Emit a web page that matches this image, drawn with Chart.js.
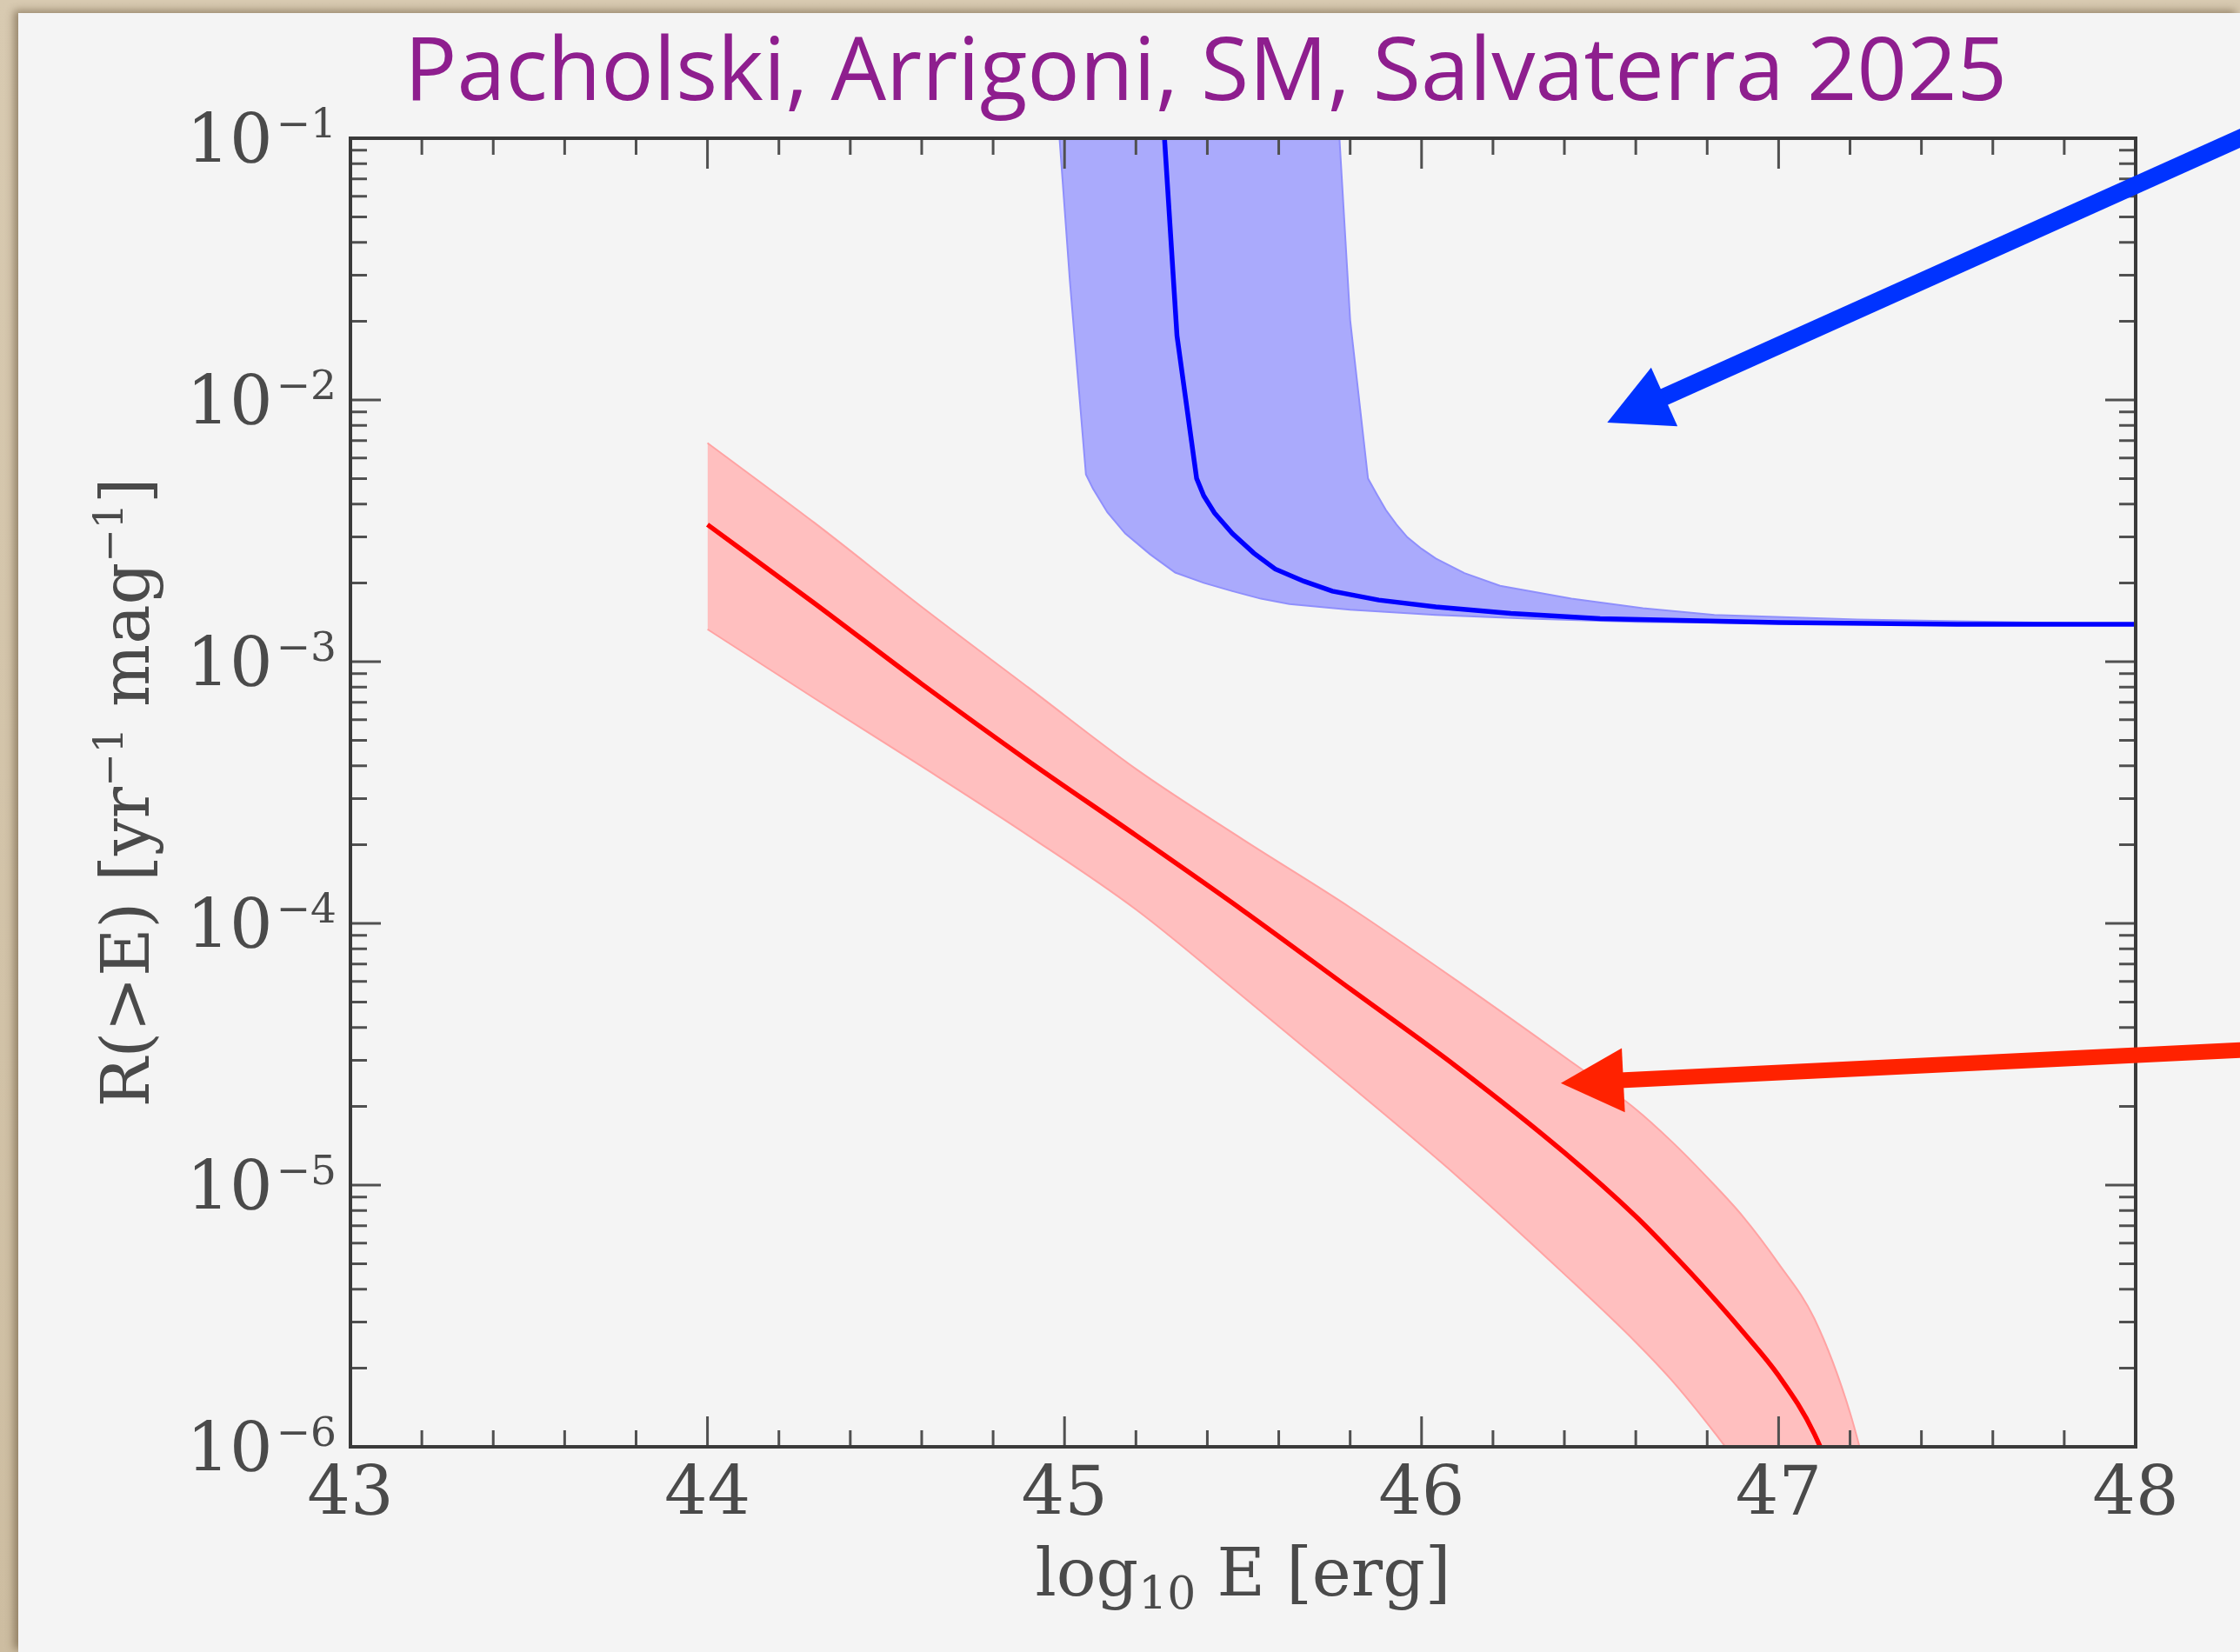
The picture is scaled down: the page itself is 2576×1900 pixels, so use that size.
<!DOCTYPE html>
<html>
<head>
<meta charset="utf-8">
<script src="https://cdn.jsdelivr.net/npm/chart.js@4.4.1/dist/chart.umd.min.js"></script>
<style>
  html, body { margin: 0; padding: 0; }
  body {
    width: 2576px; height: 1900px; position: relative; overflow: hidden;
    background: linear-gradient(180deg, #d8cab1 0%, #cdbda1 100%);
  }
  #panel {
    position: absolute; left: 21px; top: 15px; right: 0; bottom: 0;
    background: #f4f4f4;
    box-shadow: -5px -3px 9px rgba(70, 50, 25, 0.45);
  }
  #chart { position: absolute; left: 0; top: 0; }
</style>
</head>
<body>
<div id="panel"></div>
<canvas id="chart" width="2576" height="1900"></canvas>
<script>
// x = log10 E [erg], y = R(>E) [yr^-1 mag^-1]

// red population: median curve and band
const redE    = [44.0, 44.3, 44.6, 44.9, 45.2, 45.5, 45.8, 46.1, 46.4, 46.6, 46.7, 46.8, 46.9, 47.0, 47.1, 47.2, 47.3];
const redMid  = [3.34e-3, 1.67e-3, 8.22e-4, 4.16e-4, 2.17e-4, 1.12e-4, 5.62e-5, 2.82e-5, 1.33e-5, 7.59e-6, 5.52e-6, 3.94e-6, 2.75e-6, 1.87e-6, 1.12e-6, 5.0e-7, 1.6e-7];
const redHigh = [6.85e-3, 3.39e-3, 1.62e-3, 7.94e-4, 3.89e-4, 2.09e-4, 1.15e-4, 6.03e-5, 3.09e-5, 1.95e-5, 1.47e-5, 1.07e-5, 7.59e-6, 5.01e-6, 3.09e-6, 1.35e-6, 3.98e-7];
const redLow  = [1.33e-3, 7.24e-4, 3.98e-4, 2.16e-4, 1.13e-4, 5.25e-5, 2.40e-5, 1.08e-5, 4.57e-6, 2.51e-6, 1.80e-6, 1.23e-6, 8.1e-7, 5.0e-7, 2.8e-7, 1.6e-7, 7.9e-8];

// blue population: median curve and band edges
const blueMidE  = [45.28, 45.315, 45.37, 45.39, 45.42, 45.47, 45.53, 45.59, 45.67, 45.75, 45.88, 46.04, 46.25, 46.5, 47.0, 47.5, 48.0];
const blueMid   = [0.1, 1.76e-2, 5.01e-3, 4.30e-3, 3.70e-3, 3.09e-3, 2.60e-3, 2.26e-3, 2.03e-3, 1.86e-3, 1.72e-3, 1.62e-3, 1.53e-3, 1.46e-3, 1.41e-3, 1.39e-3, 1.39e-3];
const blueLowE  = [44.986, 45.015, 45.06, 45.08, 45.12, 45.17, 45.24, 45.31, 45.39, 45.47, 45.55, 45.63, 45.8, 46.04, 46.3, 46.6, 47.0, 48.0];
const blueLow   = [0.1, 2.85e-2, 5.19e-3, 4.57e-3, 3.72e-3, 3.09e-3, 2.57e-3, 2.19e-3, 2.00e-3, 1.86e-3, 1.74e-3, 1.66e-3, 1.58e-3, 1.51e-3, 1.46e-3, 1.42e-3, 1.40e-3, 1.39e-3];
const blueHighE = [45.77, 45.80, 45.85, 45.875, 45.90, 45.93, 45.96, 46.0, 46.04, 46.12, 46.22, 46.42, 46.62, 46.82, 47.22, 48.0];
const blueHigh  = [0.1, 2.02e-2, 5.01e-3, 4.35e-3, 3.80e-3, 3.34e-3, 2.99e-3, 2.70e-3, 2.48e-3, 2.18e-3, 1.95e-3, 1.74e-3, 1.60e-3, 1.51e-3, 1.45e-3, 1.39e-3];

// axes
const xTicks = [43, 44, 45, 46, 47, 48];
const yExponents = [-1, -2, -3, -4, -5, -6];
const titleText = 'Pacholski, Arrigoni, SM, Salvaterra 2025';

// annotation arrows, in data units (tail sits just past the right edge)
const arrowTips  = [[46.52, 8.19e-3], [46.39, 2.45e-5]];
const arrowTails = [[48.35, 0.1085], [48.35, 3.31e-5]];
const arrowColors = ['#0033ff', '#ff2200'];
const arrowWidths = [20, 18];

const toPoints = (xs, ys) => xs.map((x, i) => ({ x: x, y: ys[i] }));

// closed outline: one edge forward, the other back
function bandOutline(xa, ya, xb, yb) {
  const pts = toPoints(xa, ya).concat(toPoints(xb, yb).reverse());
  pts.push(pts[0]);
  return pts;
}

const SERIF = '"DejaVu Serif", "Liberation Serif", serif';
const INK = '#4a4a4a';

function drawArrow(ctx, x1, y1, x2, y2, color, width) {
  const ang = Math.atan2(y2 - y1, x2 - x1);
  const c = Math.cos(ang), s = Math.sin(ang);
  const headLen = 72, headHalf = 37;
  const bx = x2 - headLen * c, by = y2 - headLen * s;
  ctx.strokeStyle = color;
  ctx.lineWidth = width;
  ctx.lineCap = 'butt';
  ctx.beginPath();
  ctx.moveTo(x1, y1);
  ctx.lineTo(bx + 4 * c, by + 4 * s);
  ctx.stroke();
  ctx.fillStyle = color;
  ctx.beginPath();
  ctx.moveTo(x2, y2);
  ctx.lineTo(bx + headHalf * s, by - headHalf * c);
  ctx.lineTo(bx - headHalf * s, by + headHalf * c);
  ctx.closePath();
  ctx.fill();
}

const framePlugin = {
  id: 'frame',
  afterDraw(chart) {
    const { ctx, chartArea: a } = chart;
    const xs = chart.scales.x, ys = chart.scales.y;
    ctx.save();

    // inward ticks, mirrored on all four sides
    ctx.strokeStyle = '#505050';
    ctx.lineWidth = 3;
    ctx.beginPath();
    for (let i = 0; i <= 25; i++) {
      const p = xs.getPixelForValue(43 + i * 0.2);
      const len = i % 5 === 0 ? 35 : 19;
      ctx.moveTo(p, a.bottom); ctx.lineTo(p, a.bottom - len);
      ctx.moveTo(p, a.top); ctx.lineTo(p, a.top + len);
    }
    for (let e = -6; e <= -1; e++) {
      for (let m = 1; m <= 9; m++) {
        if (e === -1 && m > 1) break;
        const p = ys.getPixelForValue(m * Math.pow(10, e));
        const len = m === 1 ? 35 : 19;
        ctx.moveTo(a.left, p); ctx.lineTo(a.left + len, p);
        ctx.moveTo(a.right, p); ctx.lineTo(a.right - len, p);
      }
    }
    ctx.stroke();

    // frame
    ctx.strokeStyle = '#3a3a3a';
    ctx.lineWidth = 4;
    ctx.strokeRect(a.left, a.top, a.right - a.left, a.bottom - a.top);

    ctx.fillStyle = INK;

    // x tick labels
    ctx.font = '78px ' + SERIF;
    ctx.textAlign = 'center';
    ctx.textBaseline = 'alphabetic';
    xTicks.forEach(t => {
      ctx.fillText(String(t), xs.getPixelForValue(t), a.bottom + 78);
    });

    // y tick labels: 10 with superscript exponent
    ctx.textAlign = 'right';
    yExponents.forEach(e => {
      const p = ys.getPixelForValue(Math.pow(10, e));
      const exp = '\u2212' + Math.abs(e);
      ctx.font = '47px ' + SERIF;
      const ew = ctx.measureText(exp).width;
      ctx.fillText(exp, a.left - 16, p - 1);
      ctx.font = '78px ' + SERIF;
      ctx.fillText('10', a.left - 16 - ew - 4, p + 28);
    });

    // x axis title: log10 E [erg]
    ctx.textAlign = 'left';
    const xParts = [['log', 76, 0], ['10', 52, 15], [' E [erg]', 76, 0]];
    let total = 0;
    xParts.forEach(pt => { ctx.font = pt[1] + 'px ' + SERIF; total += ctx.measureText(pt[0]).width; });
    let cx = (a.left + a.right) / 2 - total / 2;
    xParts.forEach(pt => {
      ctx.font = pt[1] + 'px ' + SERIF;
      ctx.fillText(pt[0], cx, 1835 + pt[2]);
      cx += ctx.measureText(pt[0]).width;
    });

    // y axis title, rotated
    const yParts = [['R(>E) [yr', 76, 0], ['\u22121', 46, -30], [' mag', 76, 0], ['\u22121', 46, -30], [']', 76, 0]];
    total = 0;
    yParts.forEach(pt => { ctx.font = pt[1] + 'px ' + SERIF; total += ctx.measureText(pt[0]).width; });
    ctx.save();
    ctx.translate(171, (a.top + a.bottom) / 2);
    ctx.rotate(-Math.PI / 2);
    cx = -total / 2;
    yParts.forEach(pt => {
      ctx.font = pt[1] + 'px ' + SERIF;
      ctx.fillText(pt[0], cx, pt[2]);
      cx += ctx.measureText(pt[0]).width;
    });
    ctx.restore();

    // title
    ctx.font = '100px "Open Sans", sans-serif';
    ctx.fillStyle = '#8e1e8e';
    const tw = ctx.measureText(titleText).width;
    ctx.save();
    ctx.translate(465, 115);
    ctx.scale(1843 / tw, 1);
    ctx.fillText(titleText, 0, 0);
    ctx.restore();

    // arrows
    arrowTips.forEach((tip, i) => {
      const tail = arrowTails[i];
      drawArrow(ctx,
        xs.getPixelForValue(tail[0]), ys.getPixelForValue(tail[1]),
        xs.getPixelForValue(tip[0]), ys.getPixelForValue(tip[1]),
        arrowColors[i], arrowWidths[i]);
    });

    ctx.restore();
  }
};

new Chart(document.getElementById('chart'), {
  type: 'scatter',
  data: {
    datasets: [
      {
        data: toPoints(redE, redMid),
        showLine: true, borderColor: '#ff0000', borderWidth: 5.5,
        cubicInterpolationMode: 'monotone', pointRadius: 0, fill: false
      },
      {
        data: toPoints(blueMidE, blueMid),
        showLine: true, borderColor: '#0000ff', borderWidth: 5.5,
        pointRadius: 0, fill: false
      },
      {
        data: toPoints(redE, redHigh),
        showLine: true, cubicInterpolationMode: 'monotone',
        fill: { target: 3 },
        backgroundColor: '#ffbfbf', borderColor: '#ffa3a3',
        borderWidth: 2, pointRadius: 0
      },
      {
        data: toPoints(redE, redLow),
        showLine: true, cubicInterpolationMode: 'monotone',
        fill: false, borderColor: '#ffa3a3',
        borderWidth: 2, pointRadius: 0
      },
      {
        data: bandOutline(blueLowE, blueLow, blueHighE, blueHigh),
        showLine: true, fill: 'shape',
        backgroundColor: '#aaaafc', borderColor: '#8f8ffc',
        borderWidth: 2, pointRadius: 0
      }
    ]
  },
  options: {
    responsive: false,
    animation: false,
    devicePixelRatio: 1,
    layout: { padding: { left: 403, top: 159, right: 120, bottom: 236 } },
    plugins: {
      legend: { display: false },
      tooltip: { enabled: false },
      filler: { drawTime: 'beforeDatasetsDraw' }
    },
    scales: {
      x: { type: 'linear', min: 43, max: 48, display: false },
      y: { type: 'logarithmic', min: 1e-6, max: 1e-1, display: false }
    }
  },
  plugins: [framePlugin]
});
</script>
</body>
</html>
